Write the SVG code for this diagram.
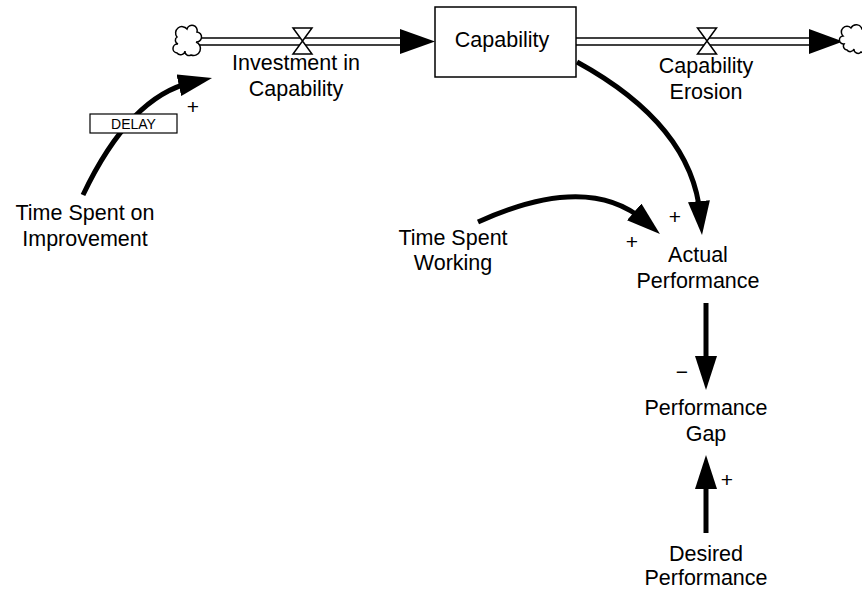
<svg xmlns="http://www.w3.org/2000/svg" width="862" height="590" viewBox="0 0 862 590">
<style>
  text { font-family: "Liberation Sans", Arial, sans-serif; fill: #000; }
  .lbl { font-size: 21.5px; text-anchor: middle; }
  .sign { font-size: 21px; text-anchor: middle; }
  .delay { font-size: 14px; text-anchor: middle; }
  .link { fill: none; stroke: #000; stroke-width: 5; }
  .pipe { stroke: #000; stroke-width: 1.5; fill: none; }
  .valve { fill: #fff; stroke: #000; stroke-width: 1.5; }
  .cloud { fill: #fff; stroke: #000; stroke-width: 1.5; }
  .stock { fill: #fff; stroke: #000; stroke-width: 1.5; }
</style>
<defs>
  <marker id="ah" markerUnits="userSpaceOnUse" viewBox="0 0 34 22" markerWidth="34" markerHeight="22" refX="14" refY="11" orient="auto">
    <path d="M0,0 L34,11 L0,22 z" fill="#000"/>
  </marker>
</defs>

<g id="connectors">
  <g id="pipe-in">
    <line class="pipe" x1="197" y1="38" x2="402" y2="38"/>
    <line class="pipe" x1="197" y1="45" x2="402" y2="45"/>
    <polygon points="400,29 435,41.5 400,54" fill="#000"/>
  </g>
  <g id="pipe-out">
    <line class="pipe" x1="576" y1="38" x2="811" y2="38"/>
    <line class="pipe" x1="576" y1="45" x2="811" y2="45"/>
    <polygon points="809,29 843,41.5 809,54" fill="#000"/>
  </g>
  <path id="link-improve" class="link" d="M83,195 Q130,96 192.5,82.3" marker-end="url(#ah)"/>
  <path id="link-capability" class="link" d="M577,62 Q692,125 700.2,215.1" marker-end="url(#ah)"/>
  <path id="link-working" class="link" d="M478,222 Q588,172 644.8,221" marker-end="url(#ah)"/>
  <path id="link-actual-gap" class="link" d="M706,303 L706,370" marker-end="url(#ah)"/>
  <path id="link-desired-gap" class="link" d="M706,533 L706,475" marker-end="url(#ah)"/>
  <g id="delay-mark">
    <rect x="90" y="114" width="87" height="19" fill="#fff" stroke="#000" stroke-width="1.2"/>
    <text class="delay" x="133.5" y="128.5">DELAY</text>
  </g>
  <text class="sign" x="193" y="114">+</text>
  <text class="sign" x="675" y="224">+</text>
  <text class="sign" x="632" y="249">+</text>
  <text class="sign" x="682" y="379">−</text>
  <text class="sign" x="727" y="487">+</text>
</g>

<g id="cloud-source">
  <path class="cloud" d="M177,37 A6,6 0 0 1 187,29 A5,5 0 0 1 197,32 A5,5 0 0 1 196,42 A6,6 0 0 1 191,55 A4,4 0 0 1 185,51 A4.5,4.5 0 0 1 177,53 A4,4 0 0 1 178,44 A4,4 0 0 1 177,37 Z"/>
</g>

<g id="cloud-sink">
  <path class="cloud" d="M843,36 A5,5 0 0 1 851,28 A6,6 0 0 1 862,29 A6,6 0 0 1 866,42 A5,5 0 0 1 861,52 A4,4 0 0 1 854,49 A4,4 0 0 1 847,50 A4,4 0 0 1 844,44 A4,4 0 0 1 843,36 Z"/>
</g>

<g id="stock-capability">
  <rect class="stock" x="435" y="7" width="141" height="70"/>
  <text class="lbl" x="502" y="47">Capability</text>
</g>

<g id="flow-investment">
  <polygon class="valve" points="293,28 312,28 293,54 312,54"/>
  <text class="lbl" x="296" y="70">Investment in</text>
  <text class="lbl" x="296" y="96">Capability</text>
</g>

<g id="flow-erosion">
  <polygon class="valve" points="697.5,28 716.5,28 697.5,54 716.5,54"/>
  <text class="lbl" x="706" y="73">Capability</text>
  <text class="lbl" x="706" y="99">Erosion</text>
</g>

<g id="aux-time-improvement">
  <text class="lbl" x="85" y="220">Time Spent on</text>
  <text class="lbl" x="85" y="246">Improvement</text>
</g>

<g id="aux-time-working">
  <text class="lbl" x="453" y="245">Time Spent</text>
  <text class="lbl" x="453" y="270">Working</text>
</g>

<g id="aux-actual-performance">
  <text class="lbl" x="698" y="262">Actual</text>
  <text class="lbl" x="698" y="288">Performance</text>
</g>

<g id="aux-performance-gap">
  <text class="lbl" x="706" y="415">Performance</text>
  <text class="lbl" x="706" y="441">Gap</text>
</g>

<g id="aux-desired-performance">
  <text class="lbl" x="706" y="561">Desired</text>
  <text class="lbl" x="706" y="585">Performance</text>
</g>
</svg>
